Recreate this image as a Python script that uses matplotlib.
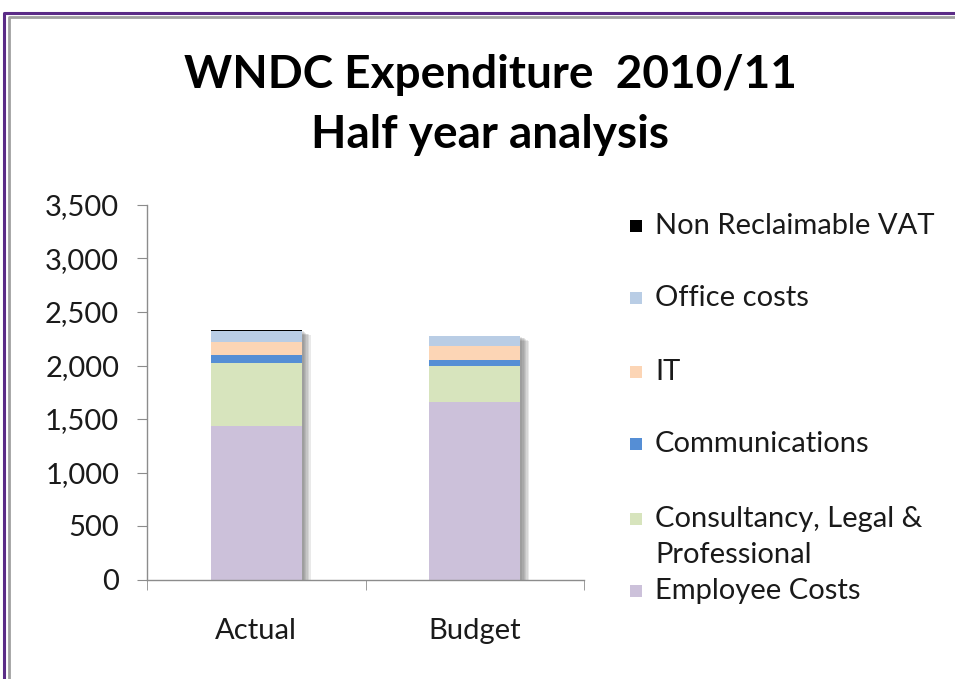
import numpy as np
import matplotlib.pyplot as plt
from matplotlib.patches import Rectangle
from matplotlib import patheffects as pe
from matplotlib.ticker import FuncFormatter

# data (GBP thousands)
categories = ["Actual", "Budget"]
series_names = ["Employee Costs", "Consultancy, Legal &\nProfessional", "Communications",
                "IT", "Office costs", "Non Reclaimable VAT"]
employee = [1431, 1661]
consultancy = [588, 330]
communications = [78, 56]
it_costs = [124, 131]
office = [97, 102]
vat = [15, 0]
colors = ["#CCC1DA", "#D7E4BD", "#558ED5", "#FCD5B5", "#B9CDE5", "#000000"]

W, H = 955, 679
plt.rcParams['font.family'] = ['Lato', 'DejaVu Sans']
fig = plt.figure(figsize=(W / 100, H / 100), dpi=100)

def fx(px): return px / W
def fy(py): return 1 - py / H

# frame of the original chart area
fig.add_artist(plt.Line2D([fx(4), fx(4), fx(W)], [fy(H), fy(13), fy(13)], color="#5B2C87", lw=2.2))
fig.add_artist(plt.Line2D([fx(8.5), fx(8.5), fx(W)], [fy(H), fy(16.5), fy(16.5)], color="#A0A0A0", lw=2.0))

ax = fig.add_axes([fx(147), fy(579.5), fx(584 - 147), (579.5 - 205) / H])

stack = [employee, consultancy, communications, it_costs, office, vat]
x = np.arange(len(categories))
width = 0.415

# soft shadow behind each full bar
totals = np.sum(stack, axis=0)
shadow_fx = [pe.SimplePatchShadow(offset=(o, -o * 0.6), shadow_rgbFace="#505050", alpha=0.12)
             for o in (1.5, 2.5, 3.5, 4.5, 5.5, 6.5)]
ax.bar(x, totals, width, color="none", edgecolor="none", path_effects=shadow_fx, zorder=1)

bottom = np.zeros(len(categories))
for vals, c in zip(stack, colors):
    ax.bar(x, vals, width, bottom=bottom, color=c, edgecolor="none", zorder=2)
    bottom += np.array(vals)

ax.set_ylim(0, 3500)
ax.set_xlim(-0.5, 1.5)
ax.set_yticks(np.arange(0, 3501, 500))
ax.yaxis.set_major_formatter(FuncFormatter(lambda v, p: f"{v:,.0f}"))
ax.set_xticks(x)
ax.set_xticklabels(categories)
ax.set_xticks([-0.5, 0.5, 1.5], minor=True)

for s in ["top", "right"]:
    ax.spines[s].set_visible(False)
for s in ["left", "bottom"]:
    ax.spines[s].set_color("#8C8C8C")
    ax.spines[s].set_linewidth(1.0)
ax.tick_params(axis="y", length=7, color="#8C8C8C", labelsize=21, pad=13, labelcolor="#1A1A1A")
ax.tick_params(axis="x", which="major", length=0, labelsize=21, pad=28, labelcolor="#1A1A1A")
ax.tick_params(axis="x", which="minor", length=7, color="#8C8C8C")

# title
fig.text(fx(490), fy(75), "WNDC Expenditure  2010/11", ha="center", va="center",
         fontsize=33, fontweight="bold", color="black")
fig.text(fx(490), fy(135), "Half year analysis", ha="center", va="center",
         fontsize=33, fontweight="bold", color="black")

# legend, top to bottom in reverse stack order; y is the first text line
legend_y = [591, 519, 444, 372, 298, 226]
for name, c, yy in zip(series_names, colors, legend_y):
    fig.add_artist(Rectangle((fx(630), fy(yy + 6)), fx(12), 12 / H, facecolor=c, edgecolor="none"))
    nlines = name.count("\n") + 1
    fig.text(fx(655), fy(yy + (nlines - 1) * 18), name, ha="left", va="center", fontsize=21,
             color="#1A1A1A", linespacing=1.43)

fig.savefig("out.png", dpi=100)
